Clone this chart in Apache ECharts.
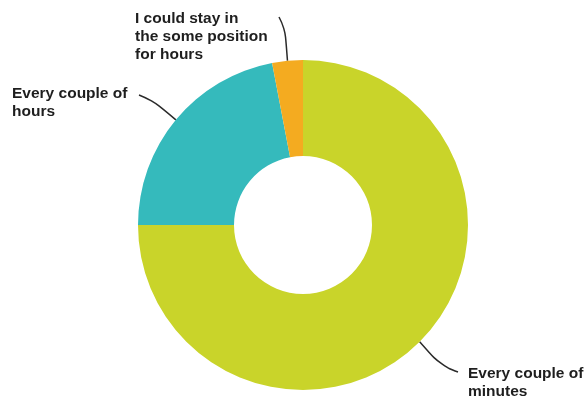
<!DOCTYPE html>
<html>
<head>
<meta charset="utf-8">
<style>
  html, body { margin: 0; padding: 0; background: #fff; }
  #chart { width: 587px; height: 401px; }
</style>
<script src="https://cdn.jsdelivr.net/npm/echarts@6/dist/echarts.min.js"></script>
</head>
<body>
<div id="chart"></div>
<script>
// Answers to "How often do you change position?"
const categories = ['Every couple of\nminutes', 'Every couple of\nhours', 'I could stay in\nthe some position\nfor hours'];
const shares = [75, 22, 3];
const sliceColors = ['#c9d42a', '#35babc', '#f4ab20'];

// Label placement: top-left of each text block, plus where its leader
// line bends and ends
const labelSpots = [
  { x: 468, y: 365, bend: [441, 366], end: [458, 372] },
  { x: 12, y: 85, bend: [152, 100], end: [139, 95] },
  { x: 135, y: 10, bend: [285, 28], end: [279, 17] }
];

const chart = echarts.init(document.getElementById('chart'), null, { renderer: 'canvas' });

chart.setOption({
  animation: false,
  series: [{
    type: 'pie',
    center: [303, 225],
    radius: [69, 165],
    startAngle: 90,
    clockwise: true,
    data: categories.map((name, i) => ({
      name,
      value: shares[i],
      itemStyle: { color: sliceColors[i] }
    })),
    label: {
      show: true,
      formatter: '{b}',
      color: '#1e1e1e',
      fontFamily: 'Liberation Sans, Arial, sans-serif',
      fontWeight: 'bold',
      fontSize: 15.5,
      lineHeight: 18
    },
    labelLine: {
      show: true,
      smooth: 0.5,
      length: 14,
      length2: 20,
      lineStyle: { color: '#2a2a2a', width: 1.5 }
    },
    labelLayout: function (params) {
      const spot = labelSpots[params.dataIndex];
      const start = params.labelLinePoints ? params.labelLinePoints[0] : spot.bend;
      return {
        x: spot.x,
        y: spot.y,
        align: 'left',
        verticalAlign: 'top',
        labelLinePoints: [start, spot.bend, spot.end]
      };
    },
    emphasis: { disabled: true }
  }]
});
</script>
</body>
</html>
